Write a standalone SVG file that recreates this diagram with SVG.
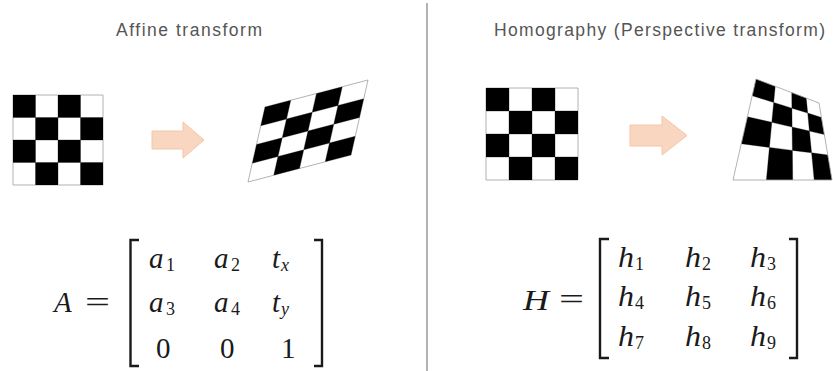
<svg xmlns="http://www.w3.org/2000/svg" xmlns:xlink="http://www.w3.org/1999/xlink" width="833" height="371" viewBox="0 0 833 371">
<style>
.title{font-family:"Liberation Sans","Noto Sans",sans-serif;font-size:17.5px;fill:#555}
.m{font-family:"Liberation Serif","DejaVu Serif",serif;font-size:29px;fill:#1a1a1a}
.mi{font-style:italic}
.sub{font-family:"Liberation Serif","DejaVu Serif",serif;font-size:18px;fill:#1a1a1a}
.grid{fill:none;stroke:#a0a0a0;stroke-width:0.8}
.blk{fill:#000}
.arrow{fill:#f9d6c0;stroke:#f4c6a8;stroke-width:1}
.br{fill:none;stroke:#1a1a1a;stroke-width:2.4}
</style>
<defs>
<g id="checker">
<rect x="0" y="0" width="4" height="4" fill="#fff"/>
<path class="grid" vector-effect="non-scaling-stroke" d="M0,0H4V4H0Z M1,0V4 M2,0V4 M3,0V4 M0,1H4 M0,2H4 M0,3H4"/>
<rect class="blk" x="0" y="0" width="1" height="1"/>
<rect class="blk" x="2" y="0" width="1" height="1"/>
<rect class="blk" x="1" y="1" width="1" height="1"/>
<rect class="blk" x="3" y="1" width="1" height="1"/>
<rect class="blk" x="0" y="2" width="1" height="1"/>
<rect class="blk" x="2" y="2" width="1" height="1"/>
<rect class="blk" x="1" y="3" width="1" height="1"/>
<rect class="blk" x="3" y="3" width="1" height="1"/>
</g>
</defs>
<rect width="833" height="371" fill="#fff"/>
<line x1="427" y1="3" x2="427" y2="371" stroke="#9a9a9a" stroke-width="1.5"/>

<g id="title-affine"><text class="title" x="116" y="36" textLength="146" lengthAdjust="spacing">Affine transform</text></g>
<g id="title-homography"><text class="title" x="494" y="36" textLength="331" lengthAdjust="spacing">Homography (Perspective transform)</text></g>

<g id="affine-source"><use xlink:href="#checker" transform="translate(13,95) scale(22.5)"/></g>
<g id="affine-result"><use xlink:href="#checker" transform="matrix(25.75,-6.75,-4.25,18.75,265,107)"/></g>
<g id="homography-source"><use xlink:href="#checker" transform="translate(486,88) scale(23)"/></g>
<g id="homography-result">
<polygon points="756,79 819,103 832,180 733,180" fill="#fff"/>
<g class="grid">
<line x1="775.2" y1="86.3" x2="766.4" y2="180"/>
<line x1="791.75" y1="92.6" x2="792.7" y2="180"/>
<line x1="806.2" y1="98.1" x2="814.2" y2="180"/>
<line x1="752.2" y1="95.7" x2="821.4" y2="117.4"/>
<line x1="747.4" y1="116.7" x2="824.3" y2="134.5"/>
<line x1="741.3" y1="143.75" x2="827.8" y2="154.95"/>
</g>
<polygon class="blk" points="756,79 775.2,86.3 773.7,102.4 752.2,95.7"/>
<polygon class="blk" points="791.75,92.6 806.2,98.1 807.7,113.1 791.9,108.2"/>
<polygon class="blk" points="773.7,102.4 791.9,108.2 792.1,127 771.8,122.3"/>
<polygon class="blk" points="807.7,113.1 821.4,117.4 824.3,134.5 809.4,131"/>
<polygon class="blk" points="747.4,116.7 771.8,122.3 769.4,147.4 741.3,143.75"/>
<polygon class="blk" points="792.1,127 809.4,131 811.6,152.85 792.4,150.4"/>
<polygon class="blk" points="769.4,147.4 792.4,150.4 792.7,180 766.4,180"/>
<polygon class="blk" points="811.6,152.85 827.8,154.95 832,180 814.2,180"/>
<polygon class="grid" points="756,79 819,103 832,180 733,180"/>
</g>

<g id="connectors">
<polygon class="arrow" points="152,131 183,131 183,122 204,140 183,158 183,149 152,149"/>
<polygon class="arrow" points="630,125 662,125 662,116 687,135.5 662,155 662,146 630,146"/>
</g>

<g id="affine-matrix">
<text class="m mi" x="54" y="312">A</text>
<text class="m" x="85" y="312" textLength="25" lengthAdjust="spacingAndGlyphs">=</text>
<path class="br" d="M139,240H130.5V366H139"/>
<path class="br" d="M314,240H322V366H314"/>
<text class="m mi" x="149" y="268">a</text><text class="sub" x="166" y="271">1</text>
<text class="m mi" x="214" y="268">a</text><text class="sub" x="231" y="271">2</text>
<text class="m mi" x="272" y="268">t</text><text class="sub mi" x="281" y="271">x</text>
<text class="m mi" x="149" y="312">a</text><text class="sub" x="166" y="315">3</text>
<text class="m mi" x="214" y="312">a</text><text class="sub" x="231" y="315">4</text>
<text class="m mi" x="272" y="312">t</text><text class="sub mi" x="281" y="315">y</text>
<text class="m" x="156" y="358">0</text>
<text class="m" x="220" y="358">0</text>
<text class="m" x="281" y="358">1</text>
</g>

<g id="homography-matrix">
<text class="m mi" x="523" y="310" textLength="26" lengthAdjust="spacingAndGlyphs">H</text>
<text class="m" x="559" y="309" textLength="25" lengthAdjust="spacingAndGlyphs">=</text>
<path class="br" d="M609,239H600V358H609"/>
<path class="br" d="M789,239H797V358H789"/>
<text class="m mi" x="618" y="267" textLength="16" lengthAdjust="spacingAndGlyphs">h</text><text class="sub" x="635" y="270">1</text>
<text class="m mi" x="685" y="267" textLength="16" lengthAdjust="spacingAndGlyphs">h</text><text class="sub" x="702" y="270">2</text>
<text class="m mi" x="750" y="267" textLength="16" lengthAdjust="spacingAndGlyphs">h</text><text class="sub" x="767" y="270">3</text>
<text class="m mi" x="618" y="306" textLength="16" lengthAdjust="spacingAndGlyphs">h</text><text class="sub" x="635" y="309">4</text>
<text class="m mi" x="685" y="306" textLength="16" lengthAdjust="spacingAndGlyphs">h</text><text class="sub" x="702" y="309">5</text>
<text class="m mi" x="750" y="306" textLength="16" lengthAdjust="spacingAndGlyphs">h</text><text class="sub" x="767" y="309">6</text>
<text class="m mi" x="618" y="346" textLength="16" lengthAdjust="spacingAndGlyphs">h</text><text class="sub" x="635" y="349">7</text>
<text class="m mi" x="685" y="346" textLength="16" lengthAdjust="spacingAndGlyphs">h</text><text class="sub" x="702" y="349">8</text>
<text class="m mi" x="750" y="346" textLength="16" lengthAdjust="spacingAndGlyphs">h</text><text class="sub" x="767" y="349">9</text>
</g>
</svg>
